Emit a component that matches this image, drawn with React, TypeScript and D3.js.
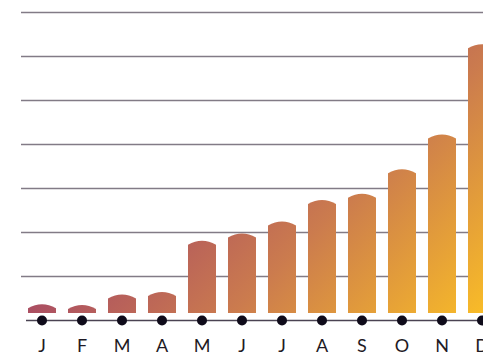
import * as d3 from 'd3';
import { useEffect, useRef } from 'react';

const months = ['J', 'F', 'M', 'A', 'M', 'J', 'J', 'A', 'S', 'O', 'N', 'D'];
const values = [3.7, 3.5, 5.9, 6.5, 18.1, 19.8, 22.5, 27.4, 28.8, 34.4, 42.3, 62.8];
const gridTicks = [10, 20, 30, 40, 50, 60, 70];

const width = 483;
const height = 355;

export default function App() {
  const svgRef = useRef<SVGSVGElement>(null);

  useEffect(() => {
    const svgEl = svgRef.current;
    if (!svgEl) return;

    const svg = d3.select(svgEl);
    svg.selectAll('*').remove();

    const x = d3
      .scaleBand<number>()
      .domain(months.map((_, i) => i))
      .range([22, 502])
      .paddingInner(0.3)
      .paddingOuter(0.15);
    const y = d3.scaleLinear().domain([0, 70]).range([320.5, 12.5]);

    const defs = svg.append('defs');
    const grad = defs
      .append('linearGradient')
      .attr('id', 'barGrad')
      .attr('gradientUnits', 'userSpaceOnUse')
      .attr('x1', 170)
      .attr('y1', 170)
      .attr('x2', 397)
      .attr('y2', 397);
    grad.append('stop').attr('offset', '0%').attr('stop-color', '#ab4f62');
    grad.append('stop').attr('offset', '45%').attr('stop-color', '#cb7b4e');
    grad.append('stop').attr('offset', '100%').attr('stop-color', '#f8bb28');

    // grid
    svg
      .append('g')
      .selectAll('line')
      .data(gridTicks)
      .join('line')
      .attr('x1', 21)
      .attr('x2', width)
      .attr('y1', (d) => y(d))
      .attr('y2', (d) => y(d))
      .attr('stroke', '#827b86')
      .attr('stroke-width', 1.5);

    // bars with domed tops
    const bottom = y(0) - 7.5;
    const cap = 4;
    svg
      .append('g')
      .selectAll('path')
      .data(values)
      .join('path')
      .attr('d', (d, i) => {
        const x0 = x(i)!;
        const w = x.bandwidth();
        const top = y(d);
        return `M${x0},${bottom}L${x0},${top + cap}Q${x0 + w / 2},${top - cap} ${x0 + w},${top + cap}L${x0 + w},${bottom}Z`;
      })
      .attr('fill', 'url(#barGrad)');

    // baseline
    svg
      .append('line')
      .attr('x1', 26)
      .attr('x2', width)
      .attr('y1', y(0))
      .attr('y2', y(0))
      .attr('stroke', '#4a4352')
      .attr('stroke-width', 1.5);

    svg
      .append('g')
      .selectAll('circle')
      .data(months)
      .join('circle')
      .attr('cx', (_, i) => x(i)! + x.bandwidth() / 2)
      .attr('cy', y(0))
      .attr('r', 5)
      .attr('fill', '#0f0b1a');

    svg
      .append('g')
      .selectAll('text')
      .data(months)
      .join('text')
      .attr('x', (_, i) => x(i)! + x.bandwidth() / 2)
      .attr('y', 351.5)
      .attr('text-anchor', 'middle')
      .attr('font-family', 'Lato, sans-serif')
      .attr('font-weight', 400)
      .attr('font-size', 18)
      .attr('fill', '#1e1a24')
      .text((d) => d);
  }, []);

  return (
    <svg
      ref={svgRef}
      width={width}
      height={height}
      style={{ position: 'absolute', left: 0, top: 0 }}
      role="img"
      aria-label="Monthly bar chart"
    />
  );
}
